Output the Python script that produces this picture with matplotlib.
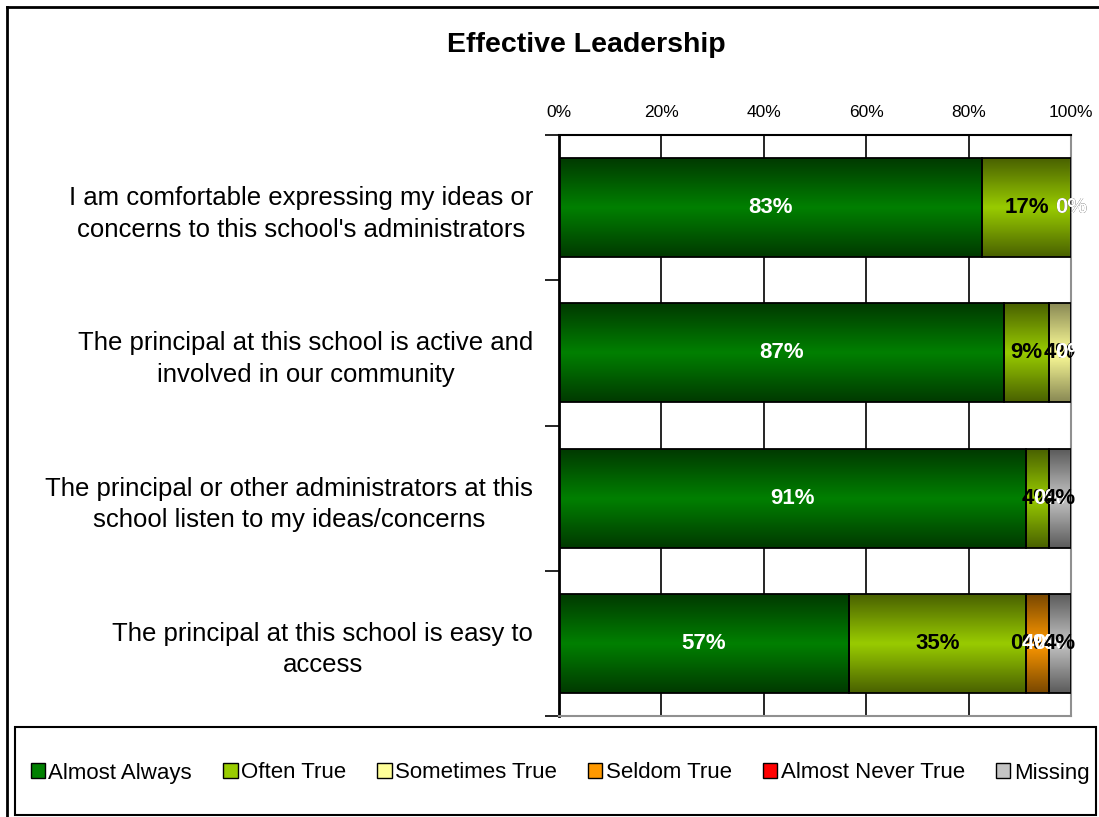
import numpy as np
import matplotlib
matplotlib.use("Agg")
import matplotlib.pyplot as plt
from matplotlib.colors import LinearSegmentedColormap
from matplotlib.patches import Patch, Rectangle
from matplotlib.lines import Line2D

plt.rcParams['font.family'] = ['Liberation Sans', 'DejaVu Sans']

title = "Effective Leadership"
categories = [
    "I am comfortable expressing my ideas or\nconcerns to this school's administrators",
    "The principal at this school is active and\ninvolved in our community",
    "The principal or other administrators at this\nschool listen to my ideas/concerns",
    "The principal at this school is easy to\naccess",
]
series_names = ["Almost Always", "Often True", "Sometimes True",
                "Seldom True", "Almost Never True", "Missing"]
# Percent of responses per statement (None = category not reported)
almost_always = [82.6, 87.0, 91.3, 56.6]
often_true = [17.4, 8.7, 4.35, 34.7]
sometimes_true = [0.0, 4.3, None, 0.0]
seldom_true = [0.0, 0.0, 0.0, 4.35]
almost_never_true = [None, None, None, 0.0]
missing = [None, None, 4.35, 4.35]
x_ticks = [0, 20, 40, 60, 80, 100]
x_tick_labels = ["0%", "20%", "40%", "60%", "80%", "100%"]

series_values = [almost_always, often_true, sometimes_true,
                 seldom_true, almost_never_true, missing]
# (edge shade, center shade) for the vertical gradient of each series
shades = [("#003a00", "#008000"),
          ("#4a6200", "#99cc00"),
          ("#8a8a55", "#ffff99"),
          ("#7a4800", "#ff9900"),
          ("#800000", "#ff0000"),
          ("#5c5c5c", "#c4c4c4")]
label_colors = ["white", "black", "black", "white", "white", "black"]

fig = plt.figure(figsize=(10.99, 8.17), dpi=100)
ax = fig.add_axes([559 / 1099, 1 - 716 / 817, 512 / 1099, 581 / 817])

y = np.arange(len(categories))
bar_h = 0.68
grad = np.linspace(0, 1, 64).reshape(-1, 1)

left = np.zeros(len(categories))
for s, (name, vals) in enumerate(zip(series_names, series_values)):
    cmap = LinearSegmentedColormap.from_list(
        name, [shades[s][0], shades[s][1], shades[s][0]])
    for i, v in enumerate(vals):
        if v is None:
            continue
        if v > 0:
            rect = ax.barh(y[i], v, left=left[i], height=bar_h,
                           color=shades[s][1], edgecolor="none", zorder=2)[0]
            im = ax.imshow(grad, cmap=cmap, aspect="auto",
                           extent=[left[i], left[i] + v,
                                   y[i] + bar_h / 2, y[i] - bar_h / 2],
                           zorder=2.5, interpolation="bilinear")
            im.set_clip_path(rect)
            ax.barh(y[i], v, left=left[i], height=bar_h, fill=False,
                    edgecolor="black", linewidth=1.3, zorder=3)
        ax.text(left[i] + v / 2, y[i], f"{v:.0f}%", ha="center", va="center",
                fontsize=16, fontweight="bold", color=label_colors[s],
                zorder=5)
        left[i] += v

ax.set_xlim(0, 100)
ax.set_ylim(len(categories) - 0.5, -0.5)

# x axis on top, vertical gridlines
ax.xaxis.tick_top()
ax.set_xticks(x_ticks)
ax.set_xticklabels(x_tick_labels, fontsize=12.5)
ax.tick_params(axis="x", length=0, pad=11)
ax.set_axisbelow(True)
ax.grid(axis="x", color="black", linewidth=1.2, zorder=0)

# category boundaries as major ticks, category names as minor tick labels
ax.set_yticks(np.arange(-0.5, len(categories), 1.0))
ax.set_yticklabels([])
ax.tick_params(axis="y", which="major", length=10, width=1.2, direction="out")
ax.set_yticks(y, minor=True)
ax.set_yticklabels(categories, minor=True, fontsize=18.5,
                   multialignment="center", linespacing=1.4)
ax.tick_params(axis="y", which="minor", length=0, pad=18.5)

ax.spines["left"].set_linewidth(2)
ax.spines["left"].set_color("black")
ax.spines["top"].set_linewidth(1.5)
ax.spines["top"].set_color("black")
ax.spines["right"].set_color("#909090")
ax.spines["right"].set_linewidth(1.5)
ax.spines["bottom"].set_color("#909090")
ax.spines["bottom"].set_linewidth(1.5)

fig.text(586 / 1099, 1 - 45 / 817, title, ha="center", va="center",
         fontsize=20.5, fontweight="bold")

# outer chart frame (left and top edges)
fig.add_artist(Line2D([7 / 1099, 7 / 1099], [0, 1 - 7 / 817],
                      transform=fig.transFigure, color="black", linewidth=2))
fig.add_artist(Line2D([7 / 1099, 1], [1 - 7 / 817, 1 - 7 / 817],
                      transform=fig.transFigure, color="black", linewidth=2))

# legend box
fig.add_artist(Rectangle((15 / 1099, 1 - 815 / 817), 1081 / 1099, 88 / 817,
                         transform=fig.transFigure, fill=False,
                         edgecolor="black", linewidth=1.5))
handles = [Patch(facecolor=shades[s][1], edgecolor="black", linewidth=1.0,
                 label=series_names[s]) for s in range(len(series_names))]
fig.legend(handles=handles, ncol=6, loc="center",
           bbox_to_anchor=(560 / 1099, 1 - 773 / 817), frameon=False,
           fontsize=16, handlelength=0.65, handleheight=0.65,
           handletextpad=0.15, columnspacing=1.4, borderaxespad=0)

fig.savefig("out.png", dpi=100)
